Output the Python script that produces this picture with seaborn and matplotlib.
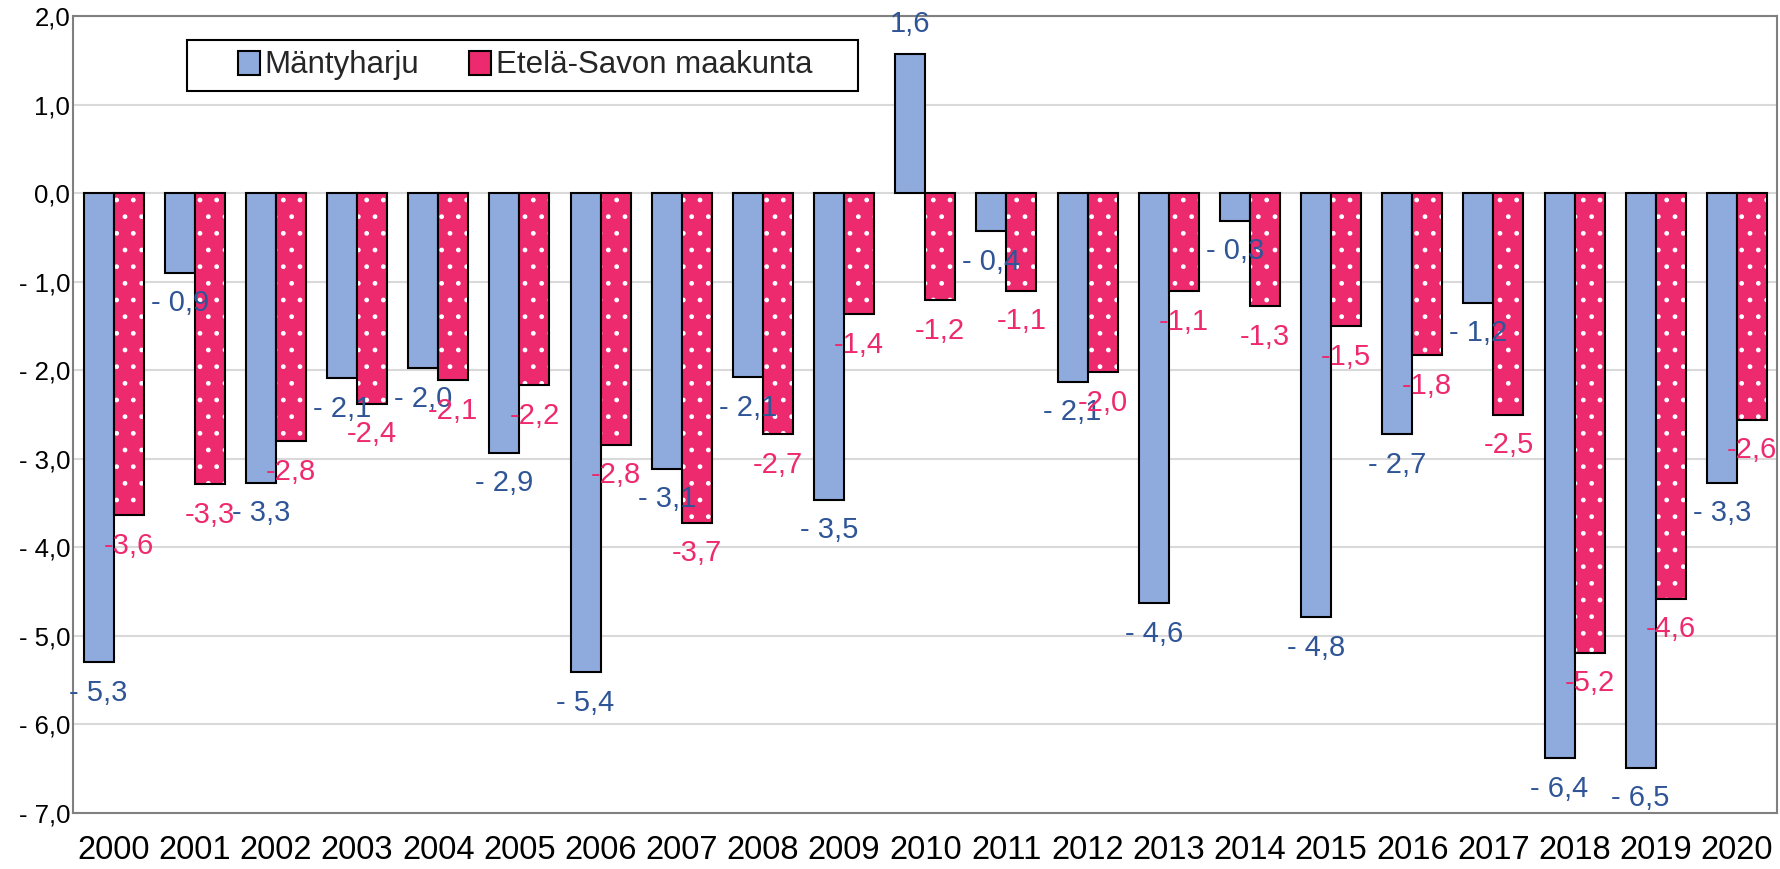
import matplotlib
matplotlib.use("Agg")
import matplotlib.pyplot as plt
import pandas as pd
import seaborn as sns
from matplotlib.patches import Rectangle, Patch
from matplotlib.ticker import FuncFormatter

# data
vuodet = [str(v) for v in range(2000, 2021)]
mantyharju = [-5.30, -0.90, -3.27, -2.09, -1.98, -2.93, -5.41, -3.11, -2.08, -3.46, 1.57,
              -0.43, -2.13, -4.63, -0.31, -4.79, -2.72, -1.24, -6.38, -6.49, -3.27]
etela_savo = [-3.64, -3.29, -2.80, -2.38, -2.11, -2.17, -2.84, -3.72, -2.72, -1.37, -1.21,
              -1.10, -2.02, -1.11, -1.28, -1.50, -1.83, -2.50, -5.19, -4.58, -2.56]
sarjat = ["Mäntyharju", "Etelä-Savon maakunta"]

sininen = "#8FAADC"
pinkki = "#EE2A6F"
sininen_teksti = "#2F5597"

df = pd.DataFrame({
    "vuosi": vuodet * 2,
    "arvo": mantyharju + etela_savo,
    "sarja": [sarjat[0]] * len(vuodet) + [sarjat[1]] * len(vuodet),
})

sns.set_theme(style="white")
plt.rcParams["font.family"] = ["Liberation Sans", "DejaVu Sans"]

fig, ax = plt.subplots(figsize=(17.81, 8.69), dpi=100)
fig.subplots_adjust(left=0.041, right=0.998, top=0.9816, bottom=0.0644)

sns.barplot(data=df, x="vuosi", y="arvo", hue="sarja", palette=[sininen, pinkki],
            width=0.74, saturation=1, edgecolor="black", linewidth=1.5,
            legend=False, ax=ax)

# dotted fill for the region bars (white dots), black outline on top
for bar in ax.containers[1]:
    x, y = bar.get_xy()
    bar.set_hatch(".")
    bar.set_edgecolor("white")
    bar.set_linewidth(0)
    ax.add_patch(Rectangle((x, y), bar.get_width(), bar.get_height(),
                           fill=False, edgecolor="black", linewidth=1.5, zorder=3))

# data labels
for bar, v in zip(ax.containers[0], mantyharju):
    xc = bar.get_x() + bar.get_width() / 2
    txt = f"{v:.1f}".replace(".", ",") if v > 0 else "- " + f"{abs(v):.1f}".replace(".", ",")
    ax.annotate(txt, (xc, v), xytext=(0, 22 if v > 0 else -22), textcoords="offset points",
                ha="center", va="center", fontsize=21, color=sininen_teksti, zorder=6)
for bar, v in zip(ax.containers[1], etela_savo):
    xc = bar.get_x() + bar.get_width() / 2
    txt = f"{v:.1f}".replace(".", ",")
    ax.annotate(txt, (xc, v), xytext=(0, 22 if v > 0 else -22), textcoords="offset points",
                ha="center", va="center", fontsize=21, color=pinkki, zorder=6)

ax.set_ylim(-7, 2)
ax.set_yticks(range(-7, 3))
ax.yaxis.set_major_formatter(FuncFormatter(
    lambda v, p: (f"{v:.1f}" if v >= 0 else "- " + f"{abs(v):.1f}").replace(".", ",")))
ax.grid(axis="y", color="#D9D9D9", linewidth=1.5)
ax.set_axisbelow(True)
ax.set_xlabel("")
ax.set_ylabel("")
ax.tick_params(axis="x", length=0, pad=16, labelsize=23.5, colors="black")
ax.tick_params(axis="y", length=0, pad=2, labelsize=18.5, colors="black")
for s in ax.spines.values():
    s.set_visible(True)
    s.set_color("#808080")
    s.set_linewidth(1.5)

# legend with its own box
ax.add_patch(Rectangle((0.0669, 0.906), 0.3935, 0.064, transform=ax.transAxes,
                       facecolor="white", edgecolor="black", linewidth=1.5, zorder=4))
handles = [Patch(facecolor=sininen, edgecolor="black", linewidth=1.5),
           Patch(facecolor=pinkki, edgecolor="black", linewidth=1.5)]
leg = ax.legend(handles, sarjat, ncol=2, loc="center left", bbox_to_anchor=(0.0968, 0.938),
                frameon=False, fontsize=22.5, handlelength=0.7, handleheight=0.8,
                handletextpad=0.15, columnspacing=1.6, borderpad=0, borderaxespad=0)
leg.set_zorder(5)

fig.savefig("out.png", dpi=100)
